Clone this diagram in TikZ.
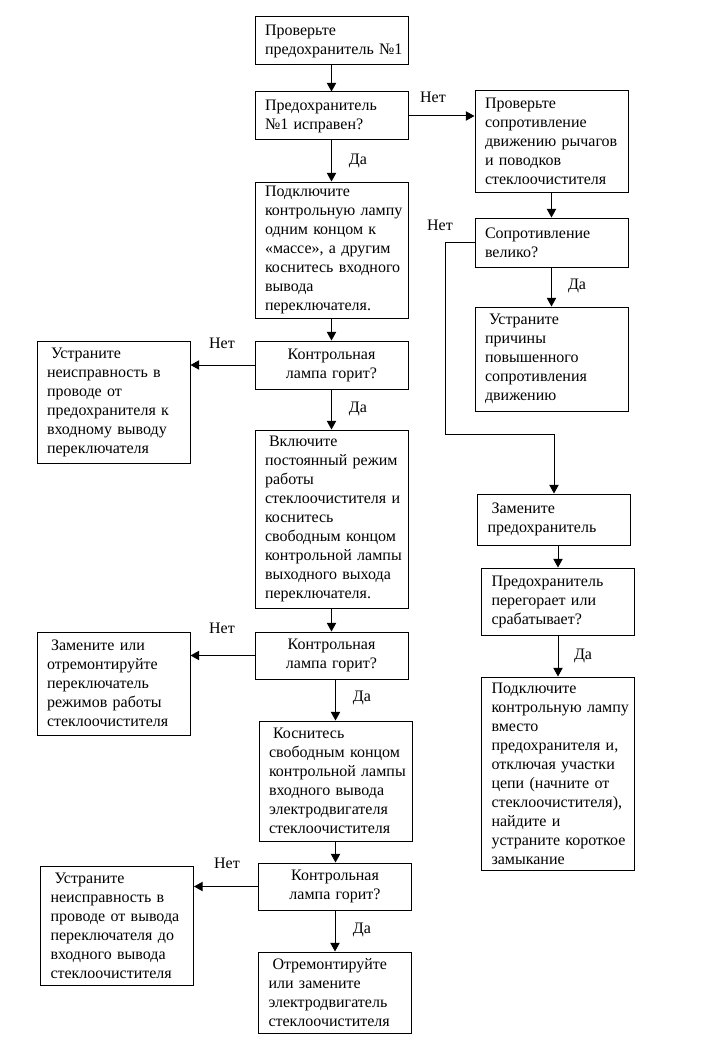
\documentclass[tikz,border=0pt]{standalone}
\usepackage{fontspec}
\setmainfont{Liberation Serif}
\usetikzlibrary{arrows.meta}
\begin{document}
\begin{tikzpicture}[x=0.75pt,y=-0.75pt,
  box/.style={draw, line width=0.75pt, inner xsep=7.5pt, inner ysep=0pt,
    text width=99.75pt, minimum width=114.75pt, align=left,
    font=\fontsize{12pt}{14.25pt}\selectfont},
  cbox/.style={box, align=center},
  arr/.style={line width=0.75pt, -{Triangle[length=6.5pt,width=7pt]}},
  lbl/.style={inner sep=0pt, font=\fontsize{12pt}{14.25pt}\selectfont}]
\useasboundingbox (0,0) rectangle (700,1045);
\def\sp{\hspace*{3pt}}
% main column
\node[box, minimum height=36pt] (B1) at (331.5,41) {Проверьте\\предохранитель~№1};
\node[box, minimum height=36pt] (B2) at (331.5,116) {Предохранитель\\№1~исправен?};
\node[box, minimum height=102pt] (B3) at (331.5,250) {Подключите\\контрольную~лампу\\одним~концом~к\\«массе»,~а~другим\\коснитесь~входного\\вывода\\переключателя.};
\node[cbox, minimum height=36pt] (B4) at (331.5,365) {Контрольная\\лампа~горит?};
\node[box, minimum height=133.5pt] (B5) at (331.5,519) {\sp Включите\\постоянный~режим\\работы\\стеклоочистителя~и\\коснитесь\\свободным~концом\\контрольной~лампы\\выходного~выхода\\переключателя.};
\node[cbox, minimum height=35.25pt] (B6) at (331.5,655.5) {Контрольная\\лампа~горит?};
\node[box, minimum height=90pt] (B7) at (335.5,781) {\sp Коснитесь\\свободным~концом\\контрольной~лампы\\входного~вывода\\электродвигателя\\стеклоочистителя};
\node[cbox, minimum height=35.25pt] (B8) at (335,886.5) {Контрольная\\лампа~горит?};
\node[box, minimum height=60.75pt] (B9) at (335,992.5) {\sp Отремонтируйте\\или~замените\\электродвигатель\\стеклоочистителя};
% left column
\node[box, minimum height=91.5pt] (L1) at (113.5,402) {\sp Устраните\\неисправность~в\\проводе~от\\предохранителя~к\\входному~выводу\\переключателя};
\node[box, minimum height=77.25pt] (L2) at (113.5,683.5) {\sp Замените~или\\отремонтируйте\\переключатель\\режимов~работы\\стеклоочистителя};
\node[box, minimum height=89.25pt] (L3) at (117,925.5) {\sp Устраните\\неисправность~в\\проводе~от~вывода\\переключателя~до\\входного~вывода\\стеклоочистителя};
% right column
\node[box, minimum height=75.75pt] (R1) at (551.5,141.5) {Проверьте\\сопротивление\\движению~рычагов\\и~поводков\\стеклоочистителя};
\node[box, minimum height=36.75pt] (R2) at (551.5,242.5) {Сопротивление\\велико?};
\node[box, minimum height=78pt] (R3) at (551.5,359) {\sp Устраните\\причины\\повышенного\\сопротивления\\движению};
\node[box, minimum height=38.25pt] (R4) at (554,519.5) {\sp Замените\\предохранитель};
\node[box, minimum height=50.25pt] (R5) at (558,601.5) {Предохранитель\\перегорает~или\\срабатывает?};
\node[box, minimum height=144.75pt] (R6) at (558,773.5) {Подключите\\контрольную~лампу\\вместо\\предохранителя~и,\\отключая~участки\\цепи~(начните~от\\стеклоочистителя),\\найдите~и\\устраните~короткое\\замыкание};
% connectors
\draw[arr] (B1) -- (B2);
\draw[arr] (B2) -- (B3);
\draw[arr] (B3) -- (B4);
\draw[arr] (B4) -- (B5);
\draw[arr] (B5) -- (B6);
\draw[arr] (B7.north |- B6.south) -- (B7.north);
\draw[arr] (B7) -- (B7.south |- B8.north);
\draw[arr] (B8) -- (B9);
\draw[arr] (B2.east) -- (B2.east -| R1.west);
\draw[arr] (B4.west) -- (B4.west -| L1.east);
\draw[arr] (B6.west) -- (B6.west -| L2.east);
\draw[arr] (B8.west) -- (B8.west -| L3.east);
\draw[arr] (R1) -- (R2);
\draw[arr] (R2) -- (R3);
\draw[arr] (R5.north |- R4.south) -- (R5.north);
\draw[arr] (R5) -- (R5.south |- R6.north);
\coordinate (k1) at (445,434);
\draw[arr] (R2.west) -| (k1) -| (R4.north);
% labels
\node[lbl] (n1) at (433,97) {Нет};
\node[lbl] (d1) at (358,161) {Да};
\node[lbl] (n2) at (440,225) {Нет};
\node[lbl] (d2) at (577,286) {Да};
\node[lbl] (n3) at (222,343) {Нет};
\node[lbl] (d3) at (358,409) {Да};
\node[lbl] (n4) at (222,628) {Нет};
\node[lbl] (d4) at (362,698) {Да};
\node[lbl] (d5) at (583,656) {Да};
\node[lbl] (n5) at (227,863) {Нет};
\node[lbl] (d6) at (362,930) {Да};
\end{tikzpicture}
\end{document}
